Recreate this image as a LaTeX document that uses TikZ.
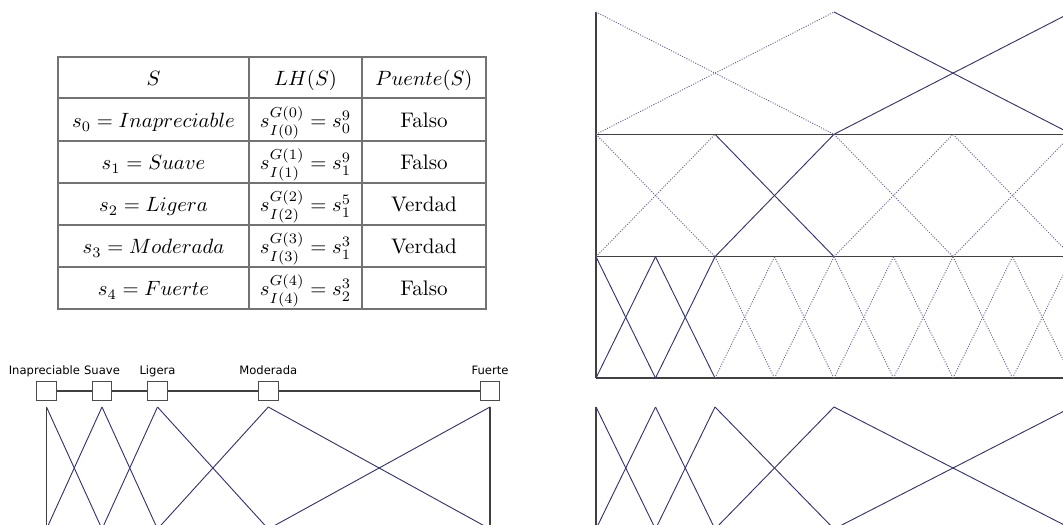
\documentclass[tikz,border=0pt]{standalone}
\usepackage{fontspec}
\newfontfamily\lhfont{DejaVu Sans}
\usepackage{tikz}
\usetikzlibrary{positioning}
\definecolor{mfnavy}{RGB}{52,52,112}
\tikzset{
    tblrule/.style={draw=black!55, line width=0.6pt},
    tblcell/.style={anchor=base, inner sep=0pt, font=\fontsize{10.2}{12}\selectfont},
    lhbox/.style={draw=black!70, fill=white, line width=0.5pt, minimum size=9.4pt, inner sep=0pt},
    lhlabel/.style={font=\lhfont\fontsize{5.6}{6}\selectfont, inner sep=0pt, text height=1.6ex, text depth=0.35ex},
    lhlink/.style={draw=black!75, line width=0.5pt},
    axisline/.style={draw=black!75, line width=0.7pt},
    mfsolid/.style={draw=mfnavy, line width=0.45pt},
    mfdotted/.style={draw=mfnavy!75, line width=0.45pt, dash pattern=on 0.5pt off 0.7pt},
}
\begin{document}
\begin{tikzpicture}[x=0.017cm, y=-0.017cm]
        \useasboundingbox (0,0) rectangle (1063,525);
        \clip (0,0) rectangle (1063,525);
        % Tabla
        \draw[tblrule] (58,57) rectangle (486,309);
        \draw[tblrule] (249,57) -- (249,309);
        \draw[tblrule] (362,57) -- (362,309);
        \foreach \yy in {98,141,183,225,267}
            \draw[tblrule] (58,\yy) -- (486,\yy);
        \node[tblcell] (hS)  at (153.5,86) {$S$};
        \node[tblcell] (hLH) at (305.5,86) {$LH(S)$};
        \node[tblcell] (hP)  at (424,86)   {$Puente(S)$};
        \node[tblcell] (s0) at (153.5,128) {$s_0 = Inapreciable$};
        \node[tblcell] (s1) at (153.5,170) {$s_1 = Suave$};
        \node[tblcell] (s2) at (153.5,212) {$s_2 = Ligera$};
        \node[tblcell] (s3) at (153.5,254) {$s_3 = Moderada$};
        \node[tblcell] (s4) at (153.5,296) {$s_4 = Fuerte$};
        \node[tblcell] (lh0) at (305.5,128) {$s^{G(0)}_{I(0)} = s^9_0$};
        \node[tblcell] (lh1) at (305.5,170) {$s^{G(1)}_{I(1)} = s^9_1$};
        \node[tblcell] (lh2) at (305.5,212) {$s^{G(2)}_{I(2)} = s^5_1$};
        \node[tblcell] (lh3) at (305.5,254) {$s^{G(3)}_{I(3)} = s^3_1$};
        \node[tblcell] (lh4) at (305.5,296) {$s^{G(4)}_{I(4)} = s^3_2$};
        \node[tblcell] (p0) at (424,128) {Falso};
        \node[tblcell] (p1) at (424,170) {Falso};
        \node[tblcell] (p2) at (424,212) {Verdad};
        \node[tblcell] (p3) at (424,254) {Verdad};
        \node[tblcell] (p4) at (424,296) {Falso};
        % Etiquetas del conjunto no balanceado
        \node[lhbox] (b0) at (46.5,391)  {};
        \node[lhbox] (b1) at (102,391)   {};
        \node[lhbox] (b2) at (157.5,391) {};
        \node[lhbox] (b3) at (268.3,391) {};
        \node[lhbox] (b4) at (490,391)   {};
        \draw[lhlink] (b0) -- (b1);
        \draw[lhlink] (b1) -- (b2);
        \draw[lhlink] (b2) -- (b3);
        \draw[lhlink] (b3) -- (b4);
        \node[lhlabel, above=1.3pt of b0, xshift=-1pt] (l0) {Inapreciable};
        \node[lhlabel, above=1.3pt of b1] (l1) {Suave};
        \node[lhlabel, above=1.3pt of b2] (l2) {Ligera};
        \node[lhlabel, above=1.3pt of b3] (l3) {Moderada};
        \node[lhlabel, above=1.3pt of b4] (l4) {Fuerte};
        % Funciones de pertenencia (izquierda)
        \draw[axisline] (46.5,407) -- (46.5,529);
        \draw[axisline] (490,407) -- (490,529);
        \foreach \xa/\xb in {46.5/102, 102/157.5, 157.5/268.3, 268.3/490} {
            \draw[mfsolid] (\xa,407) -- (\xb,529);
            \draw[mfsolid] (\xa,529) -- (\xb,407);
        }
        % Jerarquia: niveles de 3, 5 y 9 etiquetas
        \draw[axisline] (596,12) -- (596,378);
        \draw[axisline] (596,134.3) -- (1072,134.3);
        \draw[axisline] (596,256.7) -- (1072,256.7);
        \draw[axisline] (596,378) -- (1072,378);
        \foreach \k/\st in {0/mfdotted, 1/mfsolid} {
            \draw[\st] ({596+238*\k},12) -- ({834+238*\k},134.3);
            \draw[\st] ({596+238*\k},134.3) -- ({834+238*\k},12);
        }
        \foreach \k/\st in {0/mfdotted, 1/mfsolid, 2/mfdotted, 3/mfdotted} {
            \draw[\st] ({596+119*\k},134.3) -- ({715+119*\k},256.7);
            \draw[\st] ({596+119*\k},256.7) -- ({715+119*\k},134.3);
        }
        \foreach \k/\st in {0/mfsolid, 1/mfsolid, 2/mfdotted, 3/mfdotted, 4/mfdotted, 5/mfdotted, 6/mfdotted, 7/mfdotted} {
            \draw[\st] ({596+59.5*\k},256.7) -- ({655.5+59.5*\k},378);
            \draw[\st] ({596+59.5*\k},378) -- ({655.5+59.5*\k},256.7);
        }
        % Funciones de pertenencia (derecha)
        \draw[axisline] (596,407) -- (596,529);
        \foreach \xa/\xb in {596/655.5, 655.5/715, 715/834, 834/1072} {
            \draw[mfsolid] (\xa,407) -- (\xb,529);
            \draw[mfsolid] (\xa,529) -- (\xb,407);
        }
    \end{tikzpicture}
\end{document}
